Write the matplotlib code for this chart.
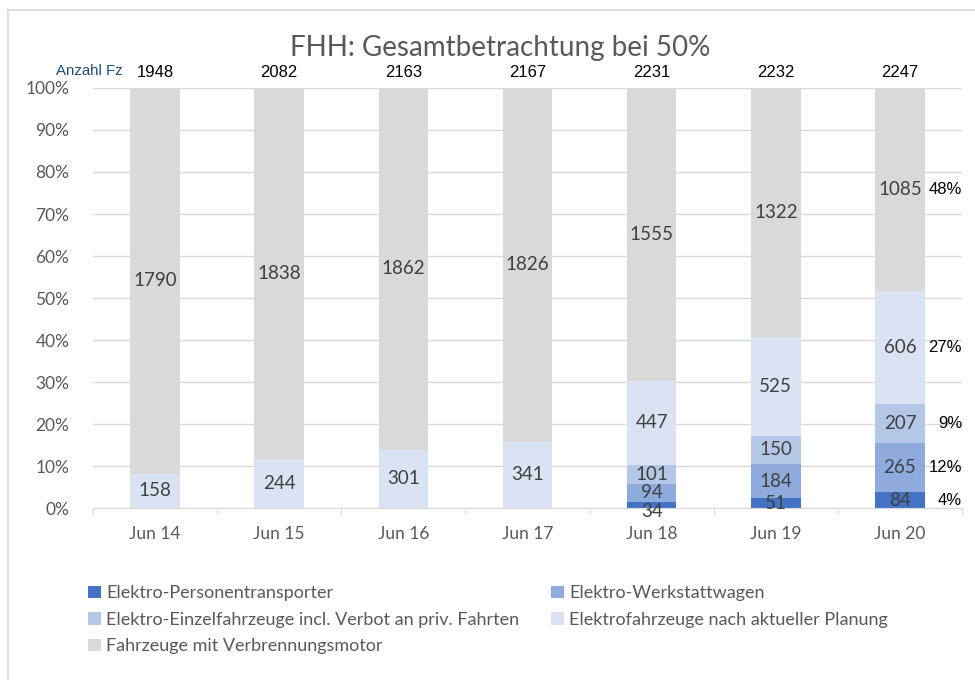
import numpy as np
import matplotlib
matplotlib.use("Agg")
import matplotlib.pyplot as plt
from matplotlib.lines import Line2D
from matplotlib.patches import Patch

plt.rcParams['font.family'] = ['Lato', 'DejaVu Sans']

months = ['Jun 14', 'Jun 15', 'Jun 16', 'Jun 17', 'Jun 18', 'Jun 19', 'Jun 20']

# vehicle counts per category, bottom to top of the stack
personentransporter = [0, 0, 0, 0, 34, 51, 84]
werkstattwagen = [0, 0, 0, 0, 94, 184, 265]
einzelfahrzeuge = [0, 0, 0, 0, 101, 150, 207]
planung = [158, 244, 301, 341, 447, 525, 606]
verbrennung = [1790, 1838, 1862, 1826, 1555, 1322, 1085]

series_names = ['Elektro-Personentransporter',
                'Elektro-Werkstattwagen',
                'Elektro-Einzelfahrzeuge incl. Verbot an priv. Fahrten',
                'Elektrofahrzeuge nach aktueller Planung',
                'Fahrzeuge mit Verbrennungsmotor']
series_colors = ['#4472C4', '#8FAADC', '#B4C7E7', '#DAE3F3', '#D9D9D9']

counts = np.array([personentransporter, werkstattwagen, einzelfahrzeuge,
                   planung, verbrennung], dtype=float)
totals = counts.sum(axis=0)
shares = counts / totals * 100

fig = plt.figure(figsize=(9.75, 6.8), dpi=100)
ax = fig.add_axes([0.0954, 0.2529, 0.8913, 0.6177])

x = np.arange(len(months))
bottom = np.zeros(len(months))
for name, color, share, cnt in zip(series_names, series_colors, shares, counts):
    ax.bar(x, share, 0.4, bottom=bottom, color=color, label=name, zorder=2)
    for xi, b, s, c in zip(x, bottom, share, cnt):
        if c > 0:
            y = b + s / 2
            if s < 2:
                # very thin segment: push the label down so it clears the one above
                y -= 1.6
            ax.text(xi, y, f'{int(c)}', ha='center', va='center',
                    fontsize=13.5, color='#404040', zorder=3)
    bottom += share

# share of each category in the last month, to the right of its bar
last = len(months) - 1
bottom_last = 0.0
for s in shares[:, last]:
    ax.text(6.5, bottom_last + s / 2, f'{s:.0f}%', ha='right', va='center',
            fontsize=12, color='black', family='Liberation Sans')
    bottom_last += s

# totals above the bars
for xi, t in zip(x, totals):
    ax.text(xi, 103.8, f'{int(t)}', ha='center', va='center', fontsize=12,
            color='black', family='Liberation Sans')
ax.text(-0.26, 104.0, 'Anzahl Fz', ha='right', va='center', fontsize=10.8,
        color='#1F4E79', family='Liberation Sans')

ax.set_xlim(-0.5, 6.5)
ax.set_ylim(0, 100)
ax.set_yticks(np.arange(0, 101, 10))
ax.set_yticklabels([f'{v}%' for v in range(0, 101, 10)])
ax.set_xticks(x)
ax.set_xticklabels(months)
ax.set_xticks(np.arange(-0.5, 7, 1), minor=True)
ax.tick_params(axis='x', which='major', length=0, pad=13, labelsize=12.5, labelcolor='#595959')
ax.tick_params(axis='x', which='minor', length=5, color='#D9D9D9')
ax.tick_params(axis='y', length=0, pad=17, labelsize=12.5, labelcolor='#595959')
ax.yaxis.grid(True, color='#D9D9D9', linewidth=1, zorder=0)
ax.set_axisbelow(True)
for side in ['top', 'right', 'left']:
    ax.spines[side].set_visible(False)
ax.spines['bottom'].set_color('#D9D9D9')

fig.text(0.513, 0.93, 'FHH: Gesamtbetrachtung bei 50%', ha='center', va='center',
         fontsize=20, color='#595959')

handles = [Patch(facecolor=c, edgecolor='none') for c in series_colors]
order = [0, 2, 4, 1, 3]
fig.legend([handles[i] for i in order], [series_names[i] for i in order],
           ncol=2, loc='upper left', bbox_to_anchor=(0.074, 0.163), frameon=False,
           fontsize=13, labelcolor='#595959', handlelength=0.7, handleheight=0.7,
           handletextpad=0.3, columnspacing=1.75, labelspacing=0.58)

# thin frame around the chart area
fig.add_artist(Line2D([0.008, 1.0], [0.985, 0.985], color='#D9D9D9', linewidth=1.2,
                      transform=fig.transFigure))
fig.add_artist(Line2D([0.008, 0.008], [0.985, 0.0], color='#D9D9D9', linewidth=1.2,
                      transform=fig.transFigure))

fig.savefig('out.png', dpi=100)
